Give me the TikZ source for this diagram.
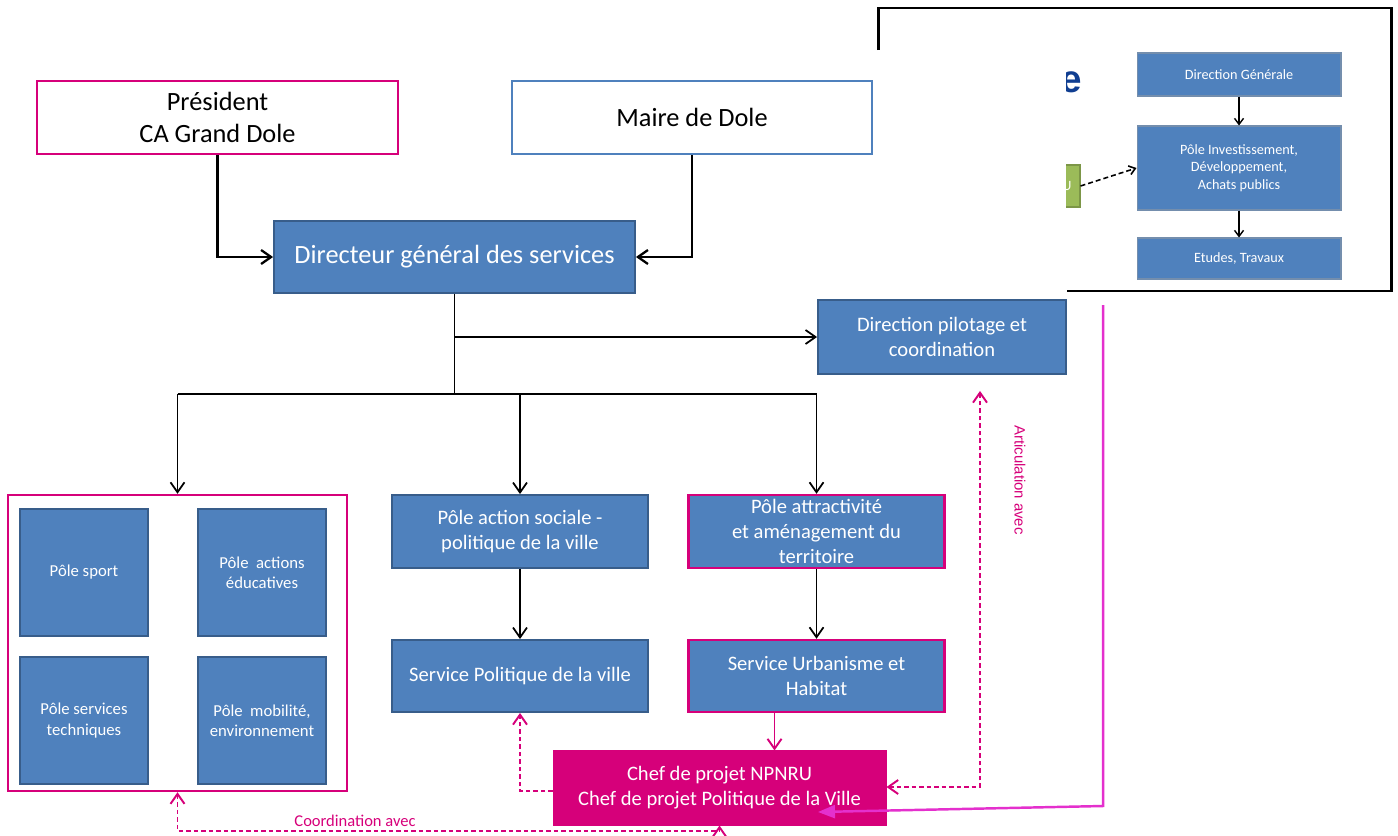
\documentclass[tikz,border=0pt]{standalone}
\usepackage{fontspec}
\setmainfont{Carlito}
\newfontfamily\artfont{Liberation Sans}
\newfontfamily\titlefont{Liberation Sans}
\usepackage{tikz}
\usetikzlibrary{arrows.meta}

\definecolor{boxblue}{RGB}{79,129,189}
\definecolor{edgeblue}{RGB}{56,93,138}
\definecolor{npink}{RGB}{214,0,122}
\definecolor{vpink}{RGB}{228,48,205}
\definecolor{ngreen}{RGB}{155,187,89}
\definecolor{titleblue}{RGB}{16,62,145}

\newcommand{\fsbig}{\fontsize{15}{18.3}\selectfont}
\newcommand{\fsmid}{\fontsize{11.7}{14.2}\selectfont}
\newcommand{\fssmall}{\fontsize{9.5}{11.6}\selectfont}
\newcommand{\fstiny}{\fontsize{8.1}{9.9}\selectfont}

\begin{document}
\begin{tikzpicture}[x=0.02cm,y=-0.02cm,semithick,
                    >={Straight Barb[length=2mm,width=2.8mm]}]
\tikzstyle{every node}=[rectangle,inner sep=0pt,align=center]
\tikzstyle{bluebox}=[fill=boxblue,draw=edgeblue,line width=1.1pt,text=white]
\tikzstyle{midbox}=[bluebox,minimum width=5.12cm,minimum height=1.46cm,font=\fsmid]
\tikzstyle{polebox}=[bluebox,minimum width=2.56cm,minimum height=2.54cm,font=\fssmall]
\tikzstyle{insetbox}=[fill=boxblue,draw=edgeblue!70,line width=0.6pt,text=white,
                      minimum width=4.08cm,font=\fstiny]
\tikzstyle{link}=[draw=black,line width=1pt,->]
\tikzstyle{pinkdash}=[draw=npink,line width=1.1pt,dash pattern=on 0.9mm off 0.6mm]
\useasboundingbox (0,0) rectangle (1398,835);

% inset (pasted organisation chart)
\draw[line width=1.7pt] (878,50) -- (878,8) -- (1391,8) -- (1391,291) -- (1067,291);
\path
(1239,74.5) node[insetbox,minimum height=0.86cm] (dgi) {Direction Générale}
(1239,168) node[insetbox,minimum height=1.68cm] (pii) {Pôle Investissement,\\Développement,\\Achats publics}
(1239,258.5) node[insetbox,minimum height=0.82cm] (eti) {Etudes, Travaux};
\begin{scope}
\clip (1066,0) rectangle (1398,300);
\path
(1040,186) node[fill=ngreen,draw=ngreen!80!black,line width=0.6pt,
                minimum width=1.6cm,minimum height=0.84cm] (gbox) {}
(1067,186) node[text=white,font=\fstiny] (gtxt) {U}
(1071,82) node[text=titleblue,font=\titlefont\fontsize{22}{26}\selectfont\bfseries] (ttl) {e};
\end{scope}
\draw[line width=0.8pt,-{Straight Barb[length=1.2mm,width=1.8mm]}] (dgi) -- (pii);
\draw[line width=0.8pt,-{Straight Barb[length=1.2mm,width=1.8mm]}] (pii) -- (eti);
\draw[line width=0.9pt,dash pattern=on 1mm off 0.6mm,
      -{Straight Barb[length=1.2mm,width=1.8mm]}] (gbox.east) -- (pii.west);

% main chart
\path
(217.5,117.5) node[draw=npink,line width=1.4pt,minimum width=7.22cm,
                   minimum height=1.46cm,font=\fsbig] (pres) {Président\\CA Grand Dole}
(692,117.5) node[draw=boxblue,line width=1.2pt,minimum width=7.2cm,
                 minimum height=1.46cm,font=\fsbig] (maire) {Maire de Dole}
(454.5,257) node[bluebox,minimum width=7.22cm,minimum height=1.44cm,
                 font=\fsbig] (dgs) {Directeur général des services}
(942,337) node[bluebox,minimum width=4.96cm,minimum height=1.48cm,
               font=\fsmid] (dpc) {Direction pilotage et\\coordination}
(177.5,643) node[draw=npink,line width=1.4pt,minimum width=6.78cm,
                 minimum height=5.92cm] (grp) {}
(84,572.5) node[polebox] (psport) {Pôle sport}
(262,572.5) node[polebox] (pedu) {Pôle~ actions\\éducatives}
(84,720.5) node[polebox] (ptech) {Pôle services\\techniques}
(262,720.5) node[polebox] (pmob) {Pôle~ mobilité,\\environnement}
(520,531.5) node[midbox] (pas) {Pôle action sociale -\\politique de la ville}
(816.5,531.5) node[midbox,draw=npink,line width=1.4pt] (pat) {Pôle attractivité\\et aménagement du\\territoire}
(520,676) node[midbox,minimum height=1.44cm] (spv) {Service Politique de la ville}
(816.5,676) node[midbox,minimum height=1.44cm,draw=npink,line width=1.4pt] (sub) {Service Urbanisme et\\Habitat}
(719.5,788) node[fill=npink,draw=npink,line width=0.6pt,text=white,minimum width=6.66cm,
                 minimum height=1.48cm,font=\fsmid] (chef) {Chef de projet NPNRU\\Chef de projet Politique de la Ville};

\coordinate (split) at ([yshift=-2cm]dgs.south);
\coordinate (cbot) at ([yshift=-0.11cm]chef.south);
\coordinate (vtop) at (1103,305);
\coordinate (vturn) at (1103,806);
\coordinate (vend) at ([xshift=1.97cm,yshift=-0.48cm]chef.center);

\draw[link,line width=1.3pt] (pres.south) |- (dgs.west);
\draw[link,line width=1.3pt] (maire.south) |- (dgs.east);
\draw[link,-] (dgs.south) -- (split);
\draw[link] (dgs.south |- dpc.west) -- (dpc.west);
\draw[link,-] (split -| grp.north) -- (split -| pat.north);
\draw[link] (split -| grp.north) -- (grp.north);
\draw[link] (split -| pas.north) -- (pas.north);
\draw[link] (split -| pat.north) -- (pat.north);
\draw[link] (pas) -- (spv);
\draw[link] (pat) -- (sub);

% liens du chef de projet
\draw[npink,line width=1.1pt,->] ([xshift=-0.84cm]sub.south) -- ([xshift=-0.84cm]sub.south |- chef.north);
\draw[pinkdash,->] ([yshift=-0.06cm]chef.west) -| (spv.south);
\draw[pinkdash,<->] ([yshift=0.02cm]chef.east) -| ([xshift=0.76cm,yshift=-0.32cm]dpc.south);
\draw[pinkdash,<->] (grp.south) |- (cbot) -- (chef.south);
\draw[vpink,line width=1.4pt,-{Triangle[length=3.4mm,width=2.6mm]}] (vtop) -- (vturn) -- (vend);

\path
(355,821) node[text=npink,font=\fontsize{9.4}{11}\selectfont] (coordlbl) {Coordination avec}
(1020,480) node[rotate=-90,text=npink,font=\artfont\fontsize{8.5}{10}\selectfont] (artlbl) {Articulation avec};
\end{tikzpicture}
\end{document}
